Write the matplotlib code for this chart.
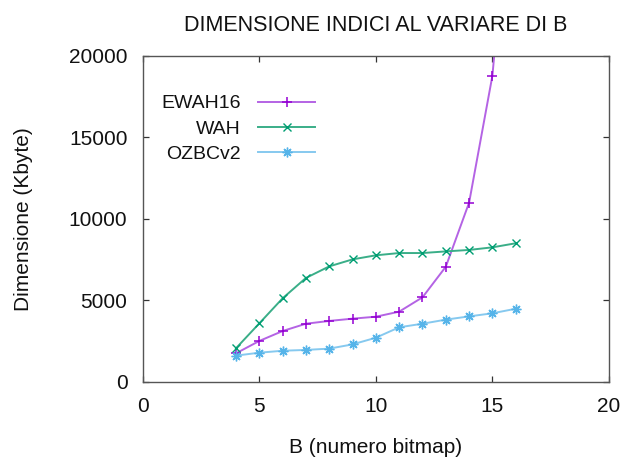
import matplotlib
matplotlib.use('Agg')
import matplotlib.pyplot as plt

# valori (Kbyte) per B = 4..16
B = [4, 5, 6, 7, 8, 9, 10, 11, 12, 13, 14, 15, 16]
ewah16 = [1740, 2500, 3110, 3560, 3730, 3870, 3990, 4300, 5180, 7060, 11000, 18800, 35000]
wah = [2050, 3580, 5120, 6370, 7080, 7510, 7760, 7900, 7900, 8000, 8090, 8250, 8500]
ozbcv2 = [1600, 1780, 1900, 1950, 2030, 2290, 2700, 3340, 3560, 3810, 4010, 4200, 4480]

plt.rcParams['font.family'] = ['Liberation Sans', 'DejaVu Sans']
plt.rcParams['font.size'] = 15

fig = plt.figure(figsize=(6.21, 4.57), dpi=100)
ax = fig.add_axes([0.2298, 0.1648, 0.7509, 0.7127])

# linea piu chiara, simbolo pieno (come gnuplot antialiasato)
ax.plot(B, ewah16, color='#b463e4', lw=1.4, marker='+', ms=7, mew=1.1,
        mec='#9400d3', label='EWAH16')
ax.plot(B, wah, color='#3aae88', lw=1.4, marker='x', ms=6, mew=1.0,
        mec='#009e73', label='WAH')
ax.plot(B, ozbcv2, color='#86c9ef', lw=1.4, marker=(8, 2, 0), ms=7, mew=1.0,
        mec='#56b4e9', label='OZBCv2')

ax.set_xlim(0, 20)
ax.set_ylim(0, 20000)
ax.set_xticks([0, 5, 10, 15, 20])
ax.set_yticks([0, 5000, 10000, 15000, 20000])
ax.tick_params(direction='in', length=4, width=0.9, top=True, right=True,
               color='#333333', pad=11, labelcolor='#111111')
for s in ax.spines.values():
    s.set_color('#555555')
    s.set_linewidth(1.0)

ax.set_xlabel('B (numero bitmap)', labelpad=16, color='#111111')
ax.set_ylabel('Dimensione (Kbyte)', labelpad=26, color='#111111')
ax.set_title('DIMENSIONE INDICI AL VARIARE DI B', pad=18, fontsize=15.5,
             color='#111111')

leg = ax.legend(loc='upper left', bbox_to_anchor=(0.040, 0.881), frameon=False,
                markerfirst=False, borderpad=0, borderaxespad=0, fontsize=14,
                handlelength=2.9, handletextpad=0.9, labelspacing=0.4)
# testo allineato a destra come in gnuplot
for col in leg._legend_handle_box.get_children():
    col.align = 'right'
for t in leg.get_texts():
    t.set_color('#111111')

fig.savefig('out.png', dpi=100)
